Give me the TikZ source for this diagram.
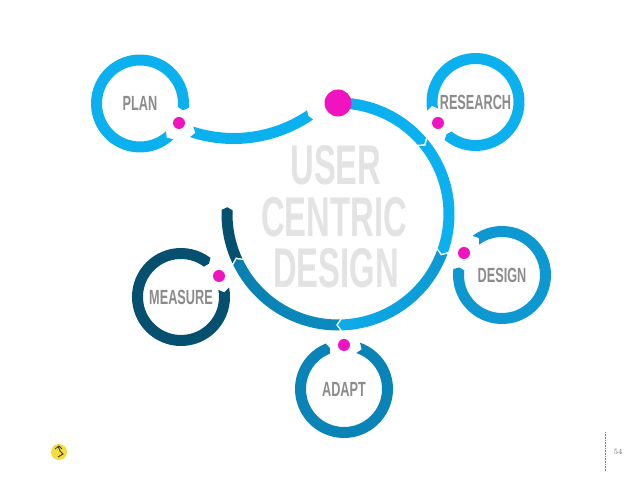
\documentclass[tikz,border=0pt]{standalone}
\usepackage{fontspec}
\usetikzlibrary{calc}
\newfontfamily\condfont[FakeStretch=0.62]{Liberation Sans Bold}
\newfontfamily\corefont[FakeStretch=0.585]{Liberation Sans Bold}
\definecolor{skyA}{HTML}{0BB0EE}
\definecolor{skyB}{HTML}{0E98D2}
\definecolor{skyC}{HTML}{0A84B6}
\definecolor{navyA}{HTML}{05506F}
\definecolor{hotdot}{HTML}{F014C0}
\definecolor{badgefill}{HTML}{F4DC3C}
\tikzset{
	ring label/.style={font=\condfont\fontsize{20.5}{20.5}\selectfont,text=black!45,inner sep=0pt},
	core label/.style={font=\corefont\fontsize{56}{56}\selectfont,text=black!11,inner sep=0pt},
	hot/.style={circle,fill=hotdot,inner sep=0pt,minimum size=12pt}
}
% centre, radius, width, start, end, notch, tip
\newcommand{\segarc}[8][]{
	\path[#1] ($(#2)+(#5:{#3+#4/2})$) arc[start angle=#5,end angle=#6,radius=#3+#4/2]
		-- ($(#2)+(#6+#8:#3)$) -- ($(#2)+(#6:{#3-#4/2})$)
		arc[start angle=#6,end angle=#5,radius=#3-#4/2]
		-- ($(#2)+(#5+#7:#3)$) -- cycle;
}
\begin{document}
\begin{tikzpicture}[x=1pt,y=1pt]
	\useasboundingbox (0,0) rectangle (638,479);
	\fill[white] (0,0) rectangle (638,479);
	\coordinate (hub) at (338,265);
	\coordinate (sag) at (233.6,476.1);

	\node[core label] (user) at (336,314) {USER};
	\node[core label] (centric) at (334,262) {CENTRIC};
	\node[core label] (coredesign) at (336,211) {DESIGN};

	% big loop
	\segarc[fill=skyA]{hub}{111}{11}{85}{41}{0}{-2}
	\segarc[fill=skyA]{hub}{111}{11}{40}{-19}{-2}{-2}
	\segarc[left color=skyA!85!skyB,right color=skyB]{hub}{111}{11}{-20}{-88}{-2}{-2}
	\segarc[left color=skyC!90!navyA,right color=skyC!80!skyA]{hub}{111}{11}{-89}{-154}{-2}{-2}
	\segarc[fill=navyA]{hub}{111}{11}{-155}{-182}{-2}{-1.5}
	\segarc[fill=skyA]{sag}{135.6}{11}{-108}{-55.7}{1.6}{-0.8}

	% rings
	\node[ring label] (plan) at (140,375.5) {PLAN};
	\segarc[fill=skyA]{plan}{43.5}{11}{-47}{-365}{-5}{-4}
	\node[ring label] (research) at (475.5,377) {RESEARCH};
	\segarc[fill=skyA]{research}{43.5}{11}{190}{-129}{-5}{-3}
	\node[ring label] (design) at (502,204) {DESIGN};
	\segarc[fill=skyB]{design}{43.5}{11}{127}{-187}{-5}{-3}
	\node[ring label] (adapt) at (344,90) {ADAPT};
	\segarc[fill=skyC]{adapt}{43.5}{11}{71}{-248}{-5}{-3}
	\node[ring label] (measure) at (181,182) {MEASURE};
	\segarc[fill=navyA]{measure}{43.5}{11}{11}{-307}{-5}{-3}

	% dots
	\node[hot,minimum size=27pt] (top) at (338,376) {};
	\node[hot] (plandot) at (179,356) {};
	\node[hot] (researchdot) at (438,356) {};
	\node[hot] (designdot) at (464,226) {};
	\node[hot] (adaptdot) at (344,134) {};
	\node[hot] (measuredot) at (219,203) {};

	% footer
	\node[circle,fill=badgefill,inner sep=0pt,minimum size=16pt] (badge) at (59,27) {};
	\draw[black!80,line width=.9pt] (58,33) -- (60,28) -- (63,25) -- (58,22);
	\draw[black!80,line width=.8pt] (55,30) -- (59,33) -- (62,30);
	\draw[black!50,densely dotted,line width=.6pt] (605,47) -- (605,8);
	\node[inner sep=0pt,text=black!60,font=\fontsize{8}{8}\selectfont] (page) at (618,27) {54};
\end{tikzpicture}
\end{document}
